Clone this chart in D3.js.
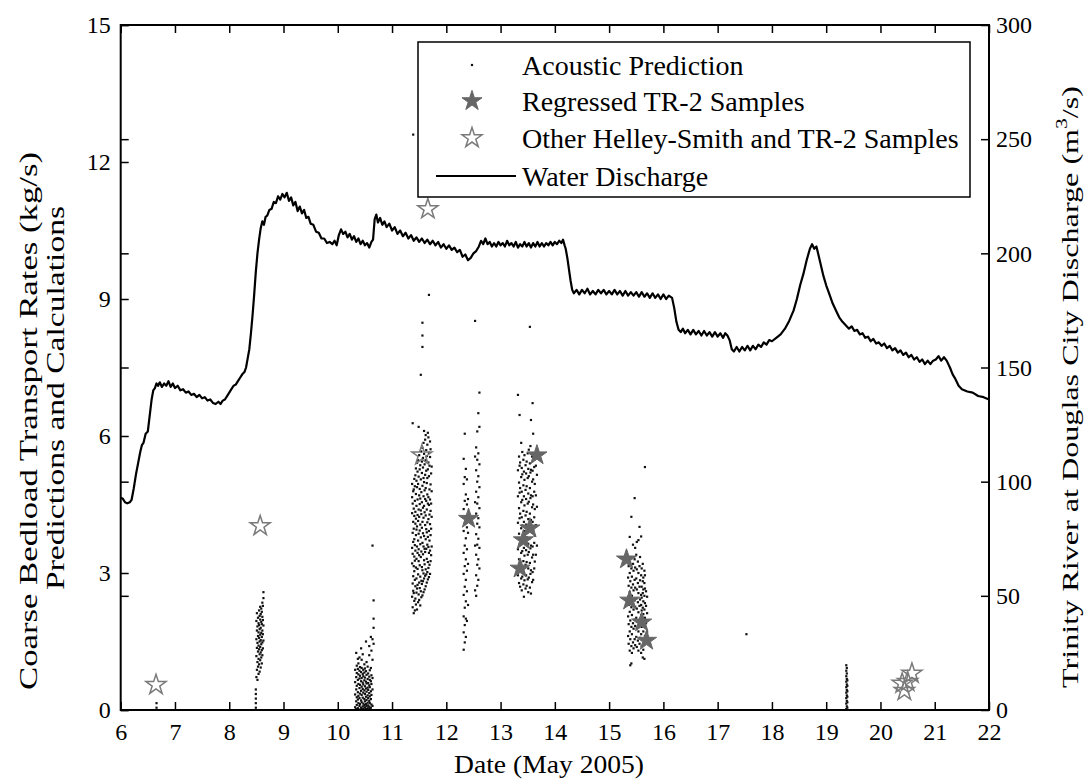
<!DOCTYPE html>
<html>
<head>
<meta charset="utf-8">
<script src="https://cdn.jsdelivr.net/npm/d3@7"></script>
<style>
  html, body { margin: 0; padding: 0; background: #fff; }
  svg { display: block; }
  text { font-family: "Liberation Serif", "Times New Roman", serif; fill: #000; }
</style>
</head>
<body>
<svg id="chart" width="1085" height="781"></svg>
<script>
// ---- Data -------------------------------------------------------------
const dayTicks = [6, 7, 8, 9, 10, 11, 12, 13, 14, 15, 16, 17, 18, 19, 20, 21, 22];
const rateTicks = [0, 3, 6, 9, 12, 15];
const flowTicks = [0, 50, 100, 150, 200, 250, 300];

// Water discharge at Douglas City, [day of May 2005, m^3/s]
const discharge = [
  [6.00,93],[6.04,92.5],[6.08,91],[6.12,90.5],[6.17,91],[6.20,92],[6.24,97],[6.28,103],[6.32,108],[6.36,113],
  [6.39,116],[6.42,117],[6.46,121],[6.50,122],[6.53,128],[6.57,136],[6.60,140],[6.63,141],[6.66,143],[6.69,142],
  [6.72,143.5],[6.76,141.5],[6.80,143],[6.84,142],[6.88,144],[6.92,141.5],[6.96,143],[7.00,141],[7.05,142],[7.10,140],
  [7.15,140.5],[7.20,139],[7.25,139.5],[7.30,138],[7.35,138.5],[7.40,137],[7.45,138],[7.50,136.5],[7.55,137],[7.60,135.5],
  [7.65,136],[7.70,134.5],[7.75,134],[7.80,135],[7.84,134],[7.88,135.5],[7.92,136],[7.96,137.5],[8.00,139],[8.04,140.5],
  [8.08,142],[8.12,142.5],[8.16,144],[8.20,145.5],[8.24,147],[8.28,148],[8.31,150],[8.34,154],[8.37,158],[8.40,165],
  [8.43,173],[8.46,182],[8.49,192],[8.52,200],[8.55,206],[8.58,211],[8.61,214],[8.64,212.5],[8.67,216],[8.70,216.5],
  [8.74,219],[8.78,219.5],[8.82,222.5],[8.86,222],[8.90,225],[8.94,223.5],[8.98,226],[9.02,224.5],[9.06,226.5],[9.10,223],
  [9.14,224.5],[9.18,221],[9.22,222.5],[9.26,218.5],[9.30,220.5],[9.34,217.5],[9.38,219],[9.42,215.5],[9.46,216],[9.50,213],
  [9.55,212.5],[9.60,209.5],[9.65,209],[9.70,206.5],[9.75,206.5],[9.80,204.5],[9.85,205],[9.90,204],[9.94,205.5],[9.98,203.5],
  [10.02,208],[10.06,210.5],[10.10,208.5],[10.14,209.5],[10.18,207],[10.22,208.5],[10.26,206],[10.30,207.5],[10.34,205],[10.38,206.5],
  [10.42,204],[10.46,205.5],[10.50,203.5],[10.54,204.5],[10.58,202.5],[10.62,205],[10.65,206],[10.68,215],[10.71,217],[10.74,213.5],
  [10.78,215.5],[10.82,212.5],[10.86,214],[10.90,211.5],[10.95,213],[11.00,210],[11.05,211.5],[11.10,208.5],[11.15,210],[11.20,207.5],
  [11.25,209],[11.30,206.5],[11.35,208],[11.40,205.5],[11.45,207],[11.50,205],[11.55,206.5],[11.60,204.5],[11.65,206],[11.70,204],
  [11.75,205.5],[11.80,203.5],[11.85,205],[11.90,202.5],[11.95,204],[12.00,202],[12.05,203.5],[12.10,201.5],[12.15,202.5],[12.20,200.5],
  [12.25,201.5],[12.30,198.5],[12.35,199.5],[12.40,197],[12.45,198],[12.50,200],[12.55,201],[12.60,203],[12.64,205.5],[12.68,204],
  [12.72,206.5],[12.76,204],[12.80,205],[12.84,203],[12.88,204.5],[12.92,203],[12.96,205],[13.00,203.5],[13.04,204.5],[13.08,203],
  [13.12,205.5],[13.16,203.5],[13.20,204.5],[13.24,203],[13.28,205],[13.32,202.5],[13.36,204],[13.40,203],[13.44,205],[13.48,203],
  [13.52,204.5],[13.56,202.5],[13.60,204.5],[13.64,203],[13.68,205],[13.72,203],[13.76,204.5],[13.80,203],[13.84,204.5],[13.88,203.5],
  [13.92,205],[13.96,203.5],[14.00,205],[14.04,204],[14.08,205.5],[14.12,204.5],[14.15,206],[14.18,203.5],
  [14.20,202],[14.23,198],[14.26,193],[14.29,188],[14.32,184],[14.35,182.5],[14.40,184],[14.45,182],[14.50,184],[14.55,182.5],
  [14.60,184.5],[14.65,182],[14.70,183.5],[14.75,182],[14.80,184],[14.85,182.5],[14.90,184],[14.95,182],[15.00,183.5],[15.05,182],
  [15.10,184],[15.15,182],[15.20,183.5],[15.25,181.5],[15.30,183.5],[15.35,181.5],[15.40,183],[15.45,181.5],[15.50,183],[15.55,181],
  [15.60,183],[15.65,181],[15.70,182.5],[15.75,180.5],[15.80,182.5],[15.85,180.5],[15.90,182],[15.95,180],[16.00,182],[16.05,180],
  [16.10,181.5],[16.16,180.5],[16.20,176],[16.24,170],[16.28,166.5],[16.32,165.5],[16.36,167],[16.40,165],[16.45,166.5],[16.50,164.5],
  [16.55,166.5],[16.60,164.5],[16.65,166],[16.70,164],[16.75,166],[16.80,164],[16.85,165.5],[16.90,163.5],[16.95,165.5],[17.00,163.5],
  [17.05,165],[17.10,163],[17.14,165],[17.18,164],[17.22,162],[17.26,158],[17.30,157],[17.35,159],[17.40,157],[17.45,159],
  [17.50,157.5],[17.55,159.5],[17.60,157.5],[17.65,159.5],[17.70,158],[17.75,160],[17.80,159],[17.85,161],[17.90,160],[17.95,162],
  [18.00,161.5],[18.08,163],[18.16,164.5],[18.24,167],[18.32,170.5],[18.40,175],[18.46,180],[18.52,186],[18.58,191],[18.64,197],
  [18.70,202],[18.74,204],[18.78,202],[18.82,203],[18.86,199],[18.90,195],[18.95,190],[19.00,186],[19.06,182],[19.12,178],
  [19.18,175],[19.24,172],[19.30,170],[19.36,168.5],[19.42,167],[19.47,168],[19.52,166],[19.57,166.5],[19.62,164.5],[19.67,165],
  [19.72,163],[19.77,163.5],[19.82,161.5],[19.87,162.5],[19.92,160.5],[19.97,161],[20.02,159.5],[20.07,160.5],[20.12,158.5],[20.17,159.5],
  [20.22,157.5],[20.27,158.5],[20.32,156.5],[20.37,157.5],[20.42,155.5],[20.47,156.5],[20.52,154.5],[20.57,155.5],[20.62,153.5],[20.67,154.5],
  [20.72,152.5],[20.77,153.5],[20.82,151.5],[20.87,153],[20.92,151.5],[20.97,153],[21.02,153.5],[21.07,155],[21.12,153],[21.17,154.5],
  [21.22,153],[21.28,150],[21.33,147],[21.38,145],[21.44,142],[21.50,140.5],[21.60,139.5],[21.70,139],[21.80,137.5],[21.90,137],
  [22.00,136]
];

// Acoustic bedload predictions, one entry per sampling time: [day, [kg/s, ...]]
const acousticColumns = [
  [6.66, [0.05, 0.15]],
  [8.49, [0.05, 0.15, 0.25, 0.35, 0.45]],
  [8.50, [0.72, 1.18, 1.55, 1.95]],
  [8.51, [0.88, 1.36, 1.74, 2.12]],
  [8.52, [0.66, 1.05, 1.47, 1.83]],
  [8.53, [0.95, 1.28, 1.62, 2.02]],
  [8.54, [0.79, 1.12, 1.41, 1.70, 1.90]],
  [8.55, [1.00, 1.33, 1.58, 1.86, 2.18]],
  [8.56, [0.84, 1.22, 1.50, 1.77, 2.06]],
  [8.57, [1.09, 1.38, 1.65, 1.98, 2.26]],
  [8.58, [0.93, 1.26, 1.53, 1.80, 2.10]],
  [8.59, [1.15, 1.44, 1.69, 1.93, 2.22]],
  [8.60, [1.02, 1.31, 1.60, 1.88, 2.15]],
  [8.61, [1.20, 1.48, 1.74, 2.04, 2.35]],
  [8.62, [1.35, 1.66, 1.97, 2.28]],
  [8.63, [1.52, 1.85, 2.45, 2.58]],
  [10.32, [0.06, 0.34, 0.61, 0.88]],
  [10.34, [0.02, 0.19, 0.45, 0.72, 1.25]],
  [10.35, [0.11, 0.28, 0.53, 0.81, 0.97]],
  [10.37, [0.04, 0.23, 0.39, 0.66, 0.90, 1.12]],
  [10.38, [0.15, 0.31, 0.57, 0.78, 1.02]],
  [10.40, [0.01, 0.09, 0.26, 0.48, 0.69, 0.86, 1.15]],
  [10.41, [0.13, 0.36, 0.55, 0.75, 0.94]],
  [10.43, [0.05, 0.21, 0.42, 0.63, 0.83, 1.35]],
  [10.44, [0.02, 0.17, 0.33, 0.51, 0.70, 0.92, 1.10]],
  [10.46, [0.08, 0.27, 0.46, 0.60, 0.79, 1.22]],
  [10.47, [0.03, 0.14, 0.38, 0.56, 0.74, 0.88]],
  [10.49, [0.01, 0.11, 0.24, 0.43, 0.65, 0.82, 1.00]],
  [10.50, [0.06, 0.19, 0.35, 0.52, 0.71, 0.91]],
  [10.52, [0.02, 0.13, 0.29, 0.47, 0.62, 0.85, 1.50]],
  [10.53, [0.09, 0.22, 0.40, 0.58, 0.77, 1.05]],
  [10.55, [0.04, 0.16, 0.32, 0.49, 0.68, 0.95]],
  [10.56, [0.01, 0.10, 0.26, 0.44, 0.59, 0.80]],
  [10.58, [0.07, 0.20, 0.37, 0.54, 0.73, 1.20, 1.40]],
  [10.59, [0.03, 0.15, 0.30, 0.50, 0.66, 0.87]],
  [10.61, [0.05, 0.24, 0.41, 0.63, 0.92, 1.60]],
  [10.62, [0.12, 0.33, 0.57, 0.76, 1.30]],
  [10.64, [0.09, 0.45, 0.70, 1.10, 1.55, 3.60]],
  [10.66, [1.45, 1.80, 2.00, 2.40]],
  [11.37, [2.48, 3.21, 3.55, 4.31, 4.66, 4.95]],
  [11.38, [2.25, 2.77, 3.42, 3.88, 4.52, 6.28]],
  [11.39, [2.61, 2.93, 3.68, 4.12, 4.79, 12.60]],
  [11.40, [2.12, 2.56, 3.15, 3.97, 4.41, 4.83]],
  [11.41, [2.39, 3.04, 3.36, 3.74, 4.25, 5.06]],
  [11.42, [2.18, 2.85, 3.27, 3.61, 4.58, 4.90]],
  [11.43, [2.44, 2.71, 3.49, 4.08, 4.34, 5.14]],
  [11.44, [2.31, 3.12, 3.83, 4.19, 4.73, 5.29]],
  [11.45, [2.57, 2.88, 3.31, 3.95, 4.47, 5.02]],
  [11.46, [2.20, 2.66, 3.58, 4.02, 4.88, 5.41]],
  [11.47, [2.74, 3.09, 3.44, 4.27, 4.61, 5.22]],
  [11.48, [2.36, 2.97, 3.71, 4.14, 4.95, 5.47]],
  [11.49, [2.53, 3.26, 3.52, 3.86, 4.39, 5.11, 6.20]],
  [11.50, [2.41, 2.79, 3.39, 4.23, 4.70, 5.58]],
  [11.51, [2.67, 3.17, 3.93, 4.51, 4.84, 5.27]],
  [11.52, [2.29, 2.92, 3.63, 4.06, 4.63, 5.36]],
  [11.53, [2.60, 3.35, 3.78, 4.37, 5.05, 7.34]],
  [11.54, [2.47, 2.83, 3.47, 4.29, 4.77, 5.66]],
  [11.55, [2.76, 3.13, 3.99, 4.55, 5.19, 5.44]],
  [11.56, [2.51, 3.06, 3.66, 4.12, 4.91, 5.74, 7.95, 8.20, 8.48]],
  [11.57, [2.82, 3.41, 3.87, 4.43, 5.31, 5.52]],
  [11.58, [2.58, 2.99, 3.58, 4.21, 4.68, 5.08, 5.85]],
  [11.59, [2.88, 3.28, 3.81, 4.47, 4.99, 5.61, 6.11]],
  [11.60, [2.64, 3.19, 3.53, 4.33, 4.81, 5.38]],
  [11.61, [2.94, 3.46, 4.05, 4.62, 5.15, 5.92]],
  [11.62, [2.71, 3.08, 3.74, 4.26, 4.86, 5.47, 6.02]],
  [11.63, [2.97, 3.53, 3.96, 4.58, 5.24, 5.69]],
  [11.64, [2.79, 3.31, 3.89, 4.39, 4.97, 5.56]],
  [11.65, [3.02, 3.62, 4.11, 4.72, 5.08, 5.81]],
  [11.66, [2.86, 3.24, 3.79, 4.52, 5.27, 6.07]],
  [11.67, [3.11, 3.57, 4.18, 4.66, 5.42, 5.97]],
  [11.68, [2.91, 3.44, 3.92, 4.49, 5.12, 5.63, 9.09]],
  [11.69, [3.18, 3.71, 4.28, 4.83, 5.35]],
  [11.70, [2.98, 3.49, 4.07, 4.61, 5.54, 5.88]],
  [11.71, [3.26, 3.83, 4.36, 4.94, 5.71]],
  [11.72, [3.39, 3.97, 4.52, 5.18]],
  [11.73, [3.58, 4.23, 4.79, 5.33]],
  [12.32, [1.32, 1.70, 2.05, 2.52, 2.98, 3.44, 3.92, 4.40, 4.95, 5.50]],
  [12.34, [1.48, 1.86, 2.24, 2.70, 3.15, 3.60, 4.08, 4.58, 5.10, 6.05]],
  [12.36, [1.60, 2.00, 2.38, 2.85, 3.30, 3.76, 4.24, 4.72, 5.28]],
  [12.38, [1.95, 2.60, 3.05, 3.52, 4.00, 4.50, 5.05]],
  [12.40, [2.30, 3.20, 3.88, 4.62]],
  [12.53, [2.62, 3.60, 4.55, 5.55, 8.52]],
  [12.55, [2.50, 2.95, 3.40, 3.85, 4.30, 4.78, 5.25, 5.75]],
  [12.57, [2.72, 3.18, 3.62, 4.08, 4.52, 5.00, 5.48, 6.10]],
  [12.59, [2.85, 3.30, 3.75, 4.20, 4.66, 5.12, 5.62, 6.50]],
  [12.61, [3.10, 3.55, 4.00, 4.42, 4.88, 5.38, 6.20, 6.95]],
  [13.32, [2.95, 3.52, 4.10, 4.68, 5.25, 6.90]],
  [13.34, [2.78, 3.30, 3.86, 4.42, 4.98, 5.55]],
  [13.35, [3.05, 3.62, 4.20, 4.76, 5.35, 6.46]],
  [13.36, [2.70, 3.20, 3.74, 4.30, 4.86, 5.42]],
  [13.38, [2.88, 3.44, 3.98, 4.55, 5.10, 5.85]],
  [13.39, [2.62, 3.12, 3.66, 4.22, 4.78, 5.30]],
  [13.40, [2.92, 3.48, 4.04, 4.60, 5.16, 5.65]],
  [13.42, [2.75, 3.26, 3.80, 4.36, 4.92, 5.48]],
  [13.43, [2.48, 3.00, 3.55, 4.12, 4.68, 5.22]],
  [13.44, [2.84, 3.38, 3.92, 4.48, 5.04, 5.58]],
  [13.46, [2.66, 3.18, 3.72, 4.26, 4.82, 5.36]],
  [13.47, [2.95, 3.50, 4.06, 4.62, 5.18]],
  [13.48, [2.72, 3.24, 3.78, 4.34, 4.90, 5.44]],
  [13.50, [2.86, 3.40, 3.96, 4.52, 5.08, 5.62]],
  [13.51, [2.58, 3.10, 3.64, 4.18, 4.74, 5.28]],
  [13.52, [2.90, 3.46, 4.00, 4.56, 5.12, 5.70]],
  [13.54, [2.68, 3.22, 3.76, 4.30, 4.86, 5.40, 8.39]],
  [13.55, [2.98, 3.54, 4.08, 4.64, 5.20, 5.78]],
  [13.56, [2.55, 3.06, 3.60, 4.16, 4.70, 5.26, 6.35]],
  [13.58, [2.80, 3.34, 3.88, 4.44, 5.00, 5.55]],
  [13.59, [3.02, 3.58, 4.12, 4.68, 5.24, 6.72]],
  [13.60, [2.85, 3.40, 3.94, 4.50, 5.05, 5.62, 6.05]],
  [13.62, [3.10, 3.66, 4.22, 4.78, 5.32]],
  [13.63, [3.25, 3.82, 4.40, 4.95, 5.52]],
  [13.65, [3.40, 4.05, 4.70, 5.35]],
  [13.67, [3.60, 4.45, 5.15]],
  [15.35, [1.62, 2.05, 2.48, 2.90]],
  [15.36, [1.45, 1.88, 2.30, 2.72, 3.15]],
  [15.38, [1.30, 1.72, 2.15, 2.58, 3.00, 3.79]],
  [15.39, [0.98, 1.55, 1.96, 2.40, 2.82]],
  [15.41, [1.02, 1.40, 1.82, 2.25, 2.68, 3.10, 4.23]],
  [15.42, [1.25, 1.66, 2.08, 2.50, 2.92]],
  [15.44, [1.48, 1.90, 2.32, 2.75, 3.20, 3.62]],
  [15.45, [1.35, 1.78, 2.20, 2.62, 3.05]],
  [15.47, [1.55, 1.98, 2.40, 2.85, 3.30, 4.64]],
  [15.48, [1.42, 1.84, 2.26, 2.68, 3.12, 3.55]],
  [15.50, [1.60, 2.02, 2.44, 2.88, 3.40]],
  [15.51, [1.38, 1.80, 2.22, 2.64, 3.08, 3.68]],
  [15.53, [1.52, 1.94, 2.36, 2.78, 3.25]],
  [15.54, [1.30, 1.72, 2.14, 2.56, 3.00, 3.72]],
  [15.56, [1.45, 1.86, 2.28, 2.70, 3.15, 4.01]],
  [15.57, [1.58, 2.00, 2.42, 2.84, 3.35]],
  [15.59, [1.25, 1.66, 2.08, 2.30, 2.52, 2.95, 3.80]],
  [15.60, [1.40, 1.82, 2.18, 2.46, 2.70, 3.10]],
  [15.62, [1.15, 1.55, 1.96, 2.24, 2.56, 2.82, 3.20]],
  [15.63, [1.32, 1.72, 2.10, 2.38, 2.64, 2.90]],
  [15.65, [1.12, 1.48, 1.86, 2.20, 2.50, 2.78, 3.05]],
  [15.66, [1.62, 2.02, 2.34, 2.66, 2.95, 5.32]],
  [15.68, [1.50, 1.90, 2.28, 2.60]],
  [15.70, [1.70, 2.12, 2.48]],
  [17.53, [1.66]],
  [19.37, [0.02, 0.14, 0.26, 0.38, 0.5, 0.62, 0.74, 0.86, 0.98]],
  [19.38, [0.08, 0.2, 0.32, 0.44, 0.56, 0.68, 0.8, 0.92]],
  [19.39, [0.05, 0.17, 0.29, 0.41, 0.53, 0.65]]
];

// Regressed TR-2 bedload samples
const regressedDay  = [12.41, 13.36, 13.42, 13.54, 13.67, 15.32, 15.38, 15.60, 15.69];
const regressedRate = [4.19, 3.10, 3.72, 3.98, 5.58, 3.30, 2.40, 1.92, 1.52];

// Other Helley-Smith and TR-2 samples
const otherDay  = [6.65, 8.57, 11.55, 11.66, 20.40, 20.58, 20.44, 20.50];
const otherRate = [0.55, 4.03, 5.58, 10.97, 0.58, 0.80, 0.42, 0.62];

const legendLabels = ["Acoustic Prediction", "Regressed TR-2 Samples",
                      "Other Helley-Smith and TR-2 Samples", "Water Discharge"];

// ---- Layout -----------------------------------------------------------
const svg = d3.select("#chart");
const plot = { left: 120.7, right: 989, top: 25, bottom: 710 };

const x  = d3.scaleLinear().domain([6, 22]).range([plot.left, plot.right]);
const yL = d3.scaleLinear().domain([0, 15]).range([plot.bottom, plot.top]);
const yR = d3.scaleLinear().domain([0, 300]).range([plot.bottom, plot.top]);

const TICK = 8;
const starGray = "#666666";
const hollowGray = "#7a7a7a";

// ---- Marks ------------------------------------------------------------
const acoustic = acousticColumns.flatMap(([d, vals]) => vals.map(v => [d, v]));
svg.append("g").attr("class", "acoustic")
  .selectAll("rect").data(acoustic).join("rect")
  .attr("x", d => x(d[0]) - 1.1)
  .attr("y", d => yL(d[1]) - 1.1)
  .attr("width", 2.2).attr("height", 2.2)
  .attr("fill", "#111");

const line = d3.line().x(d => x(d[0])).y(d => yR(d[1]));
svg.append("path").datum(discharge)
  .attr("d", line)
  .attr("fill", "none").attr("stroke", "#000")
  .attr("stroke-width", 2.2).attr("stroke-linejoin", "round");

const star = d3.symbol().type(d3.symbolStar).size(125);
svg.append("g").attr("class", "regressed")
  .selectAll("path").data(d3.range(regressedDay.length)).join("path")
  .attr("d", star)
  .attr("transform", i => `translate(${x(regressedDay[i])},${yL(regressedRate[i])})`)
  .attr("fill", starGray).attr("stroke", starGray).attr("stroke-width", 1);

svg.append("g").attr("class", "other")
  .selectAll("path").data(d3.range(otherDay.length)).join("path")
  .attr("d", star)
  .attr("transform", i => `translate(${x(otherDay[i])},${yL(otherRate[i])})`)
  .attr("fill", "none").attr("stroke", hollowGray).attr("stroke-width", 1.5);

// ---- Axes -------------------------------------------------------------
function styleAxis(g) {
  g.select(".domain").remove();
  g.selectAll(".tick line").attr("stroke", "#000").attr("stroke-width", 1.5);
  g.selectAll(".tick text").style("font-size", "24px")
    .style("font-family", '"Liberation Serif", serif').attr("fill", "#000");
}

svg.append("g").attr("transform", `translate(0,${plot.bottom})`)
  .call(d3.axisBottom(x).tickValues(dayTicks).tickFormat(d3.format("d"))
        .tickSize(-TICK).tickPadding(13))
  .call(styleAxis);

svg.append("g").attr("transform", `translate(0,${plot.top})`)
  .call(d3.axisTop(x).tickValues(dayTicks).tickFormat("").tickSize(-TICK))
  .call(styleAxis);

svg.append("g").attr("transform", `translate(${plot.left},0)`)
  .call(d3.axisLeft(yL).tickValues(rateTicks).tickFormat(d3.format("d"))
        .tickSize(-TICK).tickPadding(10))
  .call(styleAxis);

svg.append("g").attr("transform", `translate(${plot.left},0)`)
  .call(d3.axisRight(yR).tickValues(flowTicks).tickFormat("").tickSize(TICK))
  .call(styleAxis);

svg.append("g").attr("transform", `translate(${plot.right},0)`)
  .call(d3.axisRight(yR).tickValues(flowTicks).tickFormat(d3.format("d"))
        .tickSize(-TICK).tickPadding(7))
  .call(styleAxis);

svg.append("rect")
  .attr("x", plot.left).attr("y", plot.top)
  .attr("width", plot.right - plot.left).attr("height", plot.bottom - plot.top)
  .attr("fill", "none").attr("stroke", "#000").attr("stroke-width", 2);

// ---- Axis titles ------------------------------------------------------
svg.append("text")
  .attr("x", 549).attr("y", 773)
  .attr("text-anchor", "middle").style("font-size", "25px")
  .attr("textLength", 190).attr("lengthAdjust", "spacingAndGlyphs")
  .text("Date (May 2005)");

svg.append("text")
  .attr("transform", "translate(28,421) rotate(-90)")
  .attr("text-anchor", "middle").attr("dominant-baseline", "central")
  .style("font-size", "25px")
  .attr("textLength", 538).attr("lengthAdjust", "spacingAndGlyphs")
  .text("Coarse Bedload Transport Rates (kg/s)");

svg.append("text")
  .attr("transform", "translate(55,398) rotate(-90)")
  .attr("text-anchor", "middle").attr("dominant-baseline", "central")
  .style("font-size", "25px")
  .attr("textLength", 384).attr("lengthAdjust", "spacingAndGlyphs")
  .text("Predictions and Calculations");

const rightTitle = svg.append("text")
  .attr("transform", "translate(1070,387) rotate(-90)")
  .attr("text-anchor", "middle").attr("dominant-baseline", "central")
  .style("font-size", "24px")
  .attr("textLength", 602).attr("lengthAdjust", "spacingAndGlyphs");
rightTitle.append("tspan").text("Trinity River at Douglas City Discharge (m");
rightTitle.append("tspan").attr("dy", -9).style("font-size", "16px").text("3");
rightTitle.append("tspan").attr("dy", 9).text("/s)");

// ---- Legend -----------------------------------------------------------
const legend = svg.append("g").attr("class", "legend");
legend.append("rect")
  .attr("x", 418).attr("y", 42).attr("width", 552).attr("height", 155)
  .attr("fill", "#fff").attr("stroke", "#000").attr("stroke-width", 1.5);

const rowY = [65, 101, 138, 176];
const symX = 472;
legend.append("rect").attr("x", symX - 1.1).attr("y", rowY[0] - 1.1)
  .attr("width", 2.2).attr("height", 2.2).attr("fill", "#111");
legend.append("path").attr("d", star)
  .attr("transform", `translate(${symX},${rowY[1]})`)
  .attr("fill", starGray).attr("stroke", starGray).attr("stroke-width", 1);
legend.append("path").attr("d", star)
  .attr("transform", `translate(${symX},${rowY[2]})`)
  .attr("fill", "none").attr("stroke", hollowGray).attr("stroke-width", 1.5);
legend.append("line")
  .attr("x1", 436).attr("x2", 516).attr("y1", rowY[3]).attr("y2", rowY[3])
  .attr("stroke", "#000").attr("stroke-width", 2);

legend.selectAll("text.lab").data(legendLabels).join("text")
  .attr("class", "lab")
  .attr("x", 522).attr("y", (d, i) => rowY[i])
  .attr("dominant-baseline", "central")
  .style("font-size", "28px")
  .text(d => d);
</script>
</body>
</html>
